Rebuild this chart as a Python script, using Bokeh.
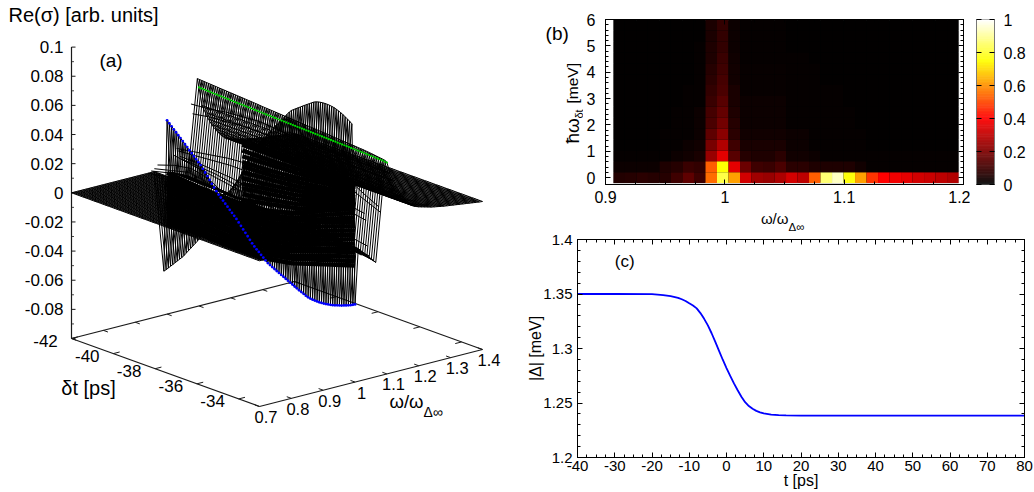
import numpy as np
from bokeh.embed import file_html
from bokeh.resources import INLINE
from bokeh.plotting import figure
from bokeh.layouts import row, column
from bokeh.models import Range1d, LinearAxis, FixedTicker, Label, LinearColorMapper, ColumnDataSource

FONT = "Liberation Sans"

# ---------- panel (a) data: slices of Re(sigma) in units of 1e-3 ----------
z_ticks = [-0.08, -0.06, -0.04, -0.02, 0, 0.02, 0.04, 0.06, 0.08, 0.1]
z_tick_labels = ["-0.08", "-0.06", "-0.04", "-0.02", "0", "0.02", "0.04", "0.06", "0.08", "0.1"]
z_minor = [-0.09, -0.07, -0.05, -0.03, -0.01, 0.01, 0.03, 0.05, 0.07, 0.09]
dt_ticks = [-42, -40, -38, -36, -34]
omega_ticks = [0.7, 0.8, 0.9, 1.0, 1.1, 1.2, 1.3, 1.4]
omega_tick_labels = ["0.7", "0.8", "0.9", "1", "1.1", "1.2", "1.3", "1.4"]

z_low = [-70,-68.4,-66.7,-64.9,-63.2,-61.4,-59.7,-57.9,-56.2,-54.3,-52,-49.8,-47.6,-45.4,-43.2,-41,-38.3,-35.6,-33,-30.3,
 -27.6,-25,-22,-19,-16,-13,-10,-7,-4,-1,2,5,8,11,14,17.4,20.8,24.3,27.8,31.3,34.8,37.1,39.4,41.7,44,46.3,48.6,50.9,53.2,55.5,
 57.8,59.5,61.7,63.9,66,68.2,70.3,72,73.2,74.3,75.5,76.6,77.8,78.9,80,81.1,82.2,83.3,84,84.5,84.8,85,85.1,85.1,85,84.8,84.5,84,83.4,82.7,
 81.9,81,80,79,77.8]
z_blue = [33,31.5,30,28.5,27,25.5,24.1,22.6,21,19.6,18,16.5,15,13.5,12,10.6,8.6,6.6,4.7,2.6,
 0.5,-1.5,-3.4,-5.2,-6.7,-8.2,-9.8,-11.3,-12.9,-14.4,-15.9,-17.5,-19.3,-21.1,-23,-24.8,-26.6,-28.5,-30.3,-31.9,-33.3,-34.6,-36,-37.3,-38.7,-40,-40.8,-41.6,-42.4,-43.2,
 -44,-44.8,-45.5,-46.3,-47.1,-47.9,-48.6,-49.4,-50.1,-50.9,-51.6,-52.2,-52.9,-53.5,-53.8,-54,-54.1,-54.1,-54.1,-54,-53.9,-53.7,-53.4,-53.1,-52.8,-52.3,-51.8,-51.3,-50.8,-50.2,
 -49.6,-49,-48.3,-47.5,-46.7]
z_near = [-3,-3,-3.1,-3.1,-3.2,-3.2,-3.3,-3.3,-3.4,-3.4,-3.5,-3.5,-3.6,-3.6,-3.7,-3.7,-3.8,-3.8,-3.9,-3.9,
 -4,-4,-4.1,-4.2,-4.2,-4.3,-4.3,-4.4,-4.5,-4.5,-4.6,-4.6,-4.7,-4.8,-4.8,-4.9,-5,-5,-5.1,-5.2,-5.2,-5.3,-5.4,-5.4,-5.5,-5.6,-5.6,-5.7,-5.8,-5.8,
 -5.9,-6,-6,-6.1,-6.2,-6.3,-6.3,-6.4,-6.5,-6.5,-6.6,-6.7,-6.8,-6.8,-6.9,-7,-7.1,-7.2,-7.3,-7.4,-7.5,-7.6,-7.7,-7.8,-7.9,-8,-8.1,-8.2,-8.3,-8.4,
 -8.5,-8.6,-8.7,-8.8,-8.9]
z_mid = [-8.7,-8.8,-8.9,-9,-9.1,-9.2,-9.3,-9.4,-9.5,-9.6,-9.7,-9.8,-9.9,-10,-10.1,-10.2,-10.3,-10.4,-10.5,-10.6,
 -10.7,-10.8,-10.9,-11,-11.1,-11.2,-11.3,-11.4,-11.5,-11.6,-11.7,-11.9,-12,-12.1,-12.3,-12.4,-12.5,-12.7,-12.8,-12.9,-13.1,-13.2,-13.4,-13.5,-13.6,-13.8,-13.9,-14.1,-14.2,-14.4,
 -14.5,-14.7,-14.8,-15,-15.1,-15.3,-15.4,-15.6,-15.8,-15.9,-16.1,-16.3,-16.4,-16.6,-16.8,-17,-17.2,-17.4,-17.6,-17.8,-18,-18.2,-18.4,-18.6,-18.8,-19,-19.2,-19.4,-19.6,-19.8,
 -20,-20.3,-20.6,-21,-21.5]
z_top = [56.3,56.2,56.1,56,55.9,55.8,55.7,55.6,55.5,55.4,55.3,55.2,55.1,55,54.9,54.8,54.7,54.6,54.5,54.4,
 54.3,54.2,54.1,54,53.9,53.8,53.7,53.6,53.4,53.3,53.2,53.1,53,52.9,52.8,52.7,52.6,52.5,52.4,52.3,52.2,52.1,52,51.9,51.8,51.7,51.6,51.5,51.4,51.3,
 51.2,51.1,51,50.9,50.8,50.7,50.6,50.5,50.4,50.3,50.2,50,49.9,49.8,49.7,49.6,49.5,49.4,49.3,49.2,49.1,49,48.9,48.8,48.7,48.5,48.4,48.2,48,47.8,
 47.6,47.4,47.2,47,46.7]
z_green = [50,49.9,49.9,49.8,49.7,49.7,49.6,49.5,49.5,49.4,49.4,49.3,49.2,49.2,49.1,49,49,48.9,48.9,48.8,
 48.7,48.7,48.6,48.6,48.5,48.4,48.4,48.3,48.3,48.2,48.1,48.1,48,48,47.9,47.9,47.8,47.8,47.7,47.7,47.6,47.6,47.5,47.5,47.4,47.4,47.3,47.3,47.2,47.2,
 47.1,47.1,47,47,46.9,46.9,46.8,46.8,46.7,46.7,46.6,46.6,46.5,46.5,46.4,46.4,46.3,46.3,46.2,46.2,46.1,46.1,46,46,45.9,45.9,45.8,45.7,45.7,45.6,
 45.5,45.5,45.4,45.2,45.1]
omega_right = [1.11,1.12,1.13,1.14,1.15,1.16,1.17,1.18,1.19,1.20,1.21,1.22,1.23,1.24,1.25,1.26,1.27,1.28,1.29,1.30,
 1.31,1.32,1.33,1.34,1.35,1.36,1.37,1.38,1.39,1.40]
z_right = [37,31.6,26.5,22.3,18.8,15.8,13.2,11,9.9,9.1,8.5,7.9,7.3,6.7,6.3,5.9,5.5,5.1,4.8,4.5,
 4.2,3.9,3.6,3.3,3,2.7,2.4,2.1,1.8,1.6]
omega_flat = [0.70,0.705,0.71,0.715,0.72,0.725,0.73,0.735,0.74,0.745,0.75,0.755,0.76,0.765,0.77,0.775,0.78,0.785,0.79,0.795,
 0.80,0.805,0.81,0.815,0.82,0.825,0.83,0.835,0.84,0.845,0.85,0.855,0.86,0.865,0.87,0.875,0.88,0.885,0.89,0.895,
 0.90,0.905,0.91,0.915,0.92,0.925,0.93,0.935,0.94,0.945,0.95,0.955,0.96]
ripple_omega = [0.94,0.95,0.96,0.97,1.02,1.03,1.035,1.04,1.045,1.075,1.08]
ripple_z = [
 [0,2,4,3,1,-1,-2,-1,1,2,1,0],
 [1,4,6,4,1,-3,-4,-2,2,4,2,0],
 [2,5,8,6,1,-4,-6,-3,3,6,4,1],
 [4,8,10,7,0,-6,-8,-4,4,8,6,2],
 [8,6,4,2,0,-2,-4,-6,-8,-10,-12,-14],
 [12,14,16,18,19,20,20,20,19,18,16,14],
 [10,11,12,13,13,13,13,13,12,12,11,9],
 [6,6,5,4,2,1,0,-2,-3,-5,-7,-9],
 [4,3,2,0,-2,-4,-6,-8,-10,-12,-14,-16],
 [40,41,43,44,45,44,43,40,35,29,22,16],
 [33,35,36,37,37,36,34,30,26,22,17,12],
]
# dense bundles of slices close to omega = 1
dense_z = [
 [-3,-5,-6,-5,0,10,19],
 [-6,-7,-8,-8,-3,7,16],
 [-8,-10,-11,-10,-5,4,13],
 [-11,-12,-13,-13,-8,2,10],
 [-14,-15,-16,-15,-10,-1,7],
 [-16,-17,-18,-18,-13,-4,4],
 [-19,-20,-21,-20,-16,-7,1],
 [-22,-22,-23,-23,-18,-10,-2],
 [-25,-25,-26,-25,-21,-13,-5],
 [-27,-27,-28,-28,-24,-16,-8],
 [-30,-30,-31,-30,-26,-18,-11],
 [-33,-32,-33,-33,-29,-21,-14],
 [-35,-35,-36,-35,-31,-24,-17],
 [-38,-37,-38,-38,-34,-27,-20],
]
upper_dt = [-38.4, -37.05, -35.7, -34.35, -33]
upper_z = [
 [35,35,35,35,35],
 [31,31,32,33,33],
 [27,28,29,31,32],
 [23,24,26,29,30],
 [20,21,23,26,29],
 [16,18,20,24,27],
 [12,14,17,22,25],
 [8,11,14,20,24],
 [5,8,11,18,22],
 [1,4,8,15,21],
 [-3,1,5,13,20],
 [-5.5,-4,2,11,19],
]

# ---------- panel (b) data ----------
omega_b_start = 0.9115
omega_b_step = 0.00964
row_step = 0.4133
heat_rows = [
 [.055,.06,.07,.06,.06,.10,.15,.10,.55,.82,.62,.33,.25,.24,.27,.33,.30,.53,.86,.94,.76,.62,.47,.40,.38,.36,.33,.32,.30,.28],
 [.02,.02,.02,.02,.05,.06,.09,.08,.53,.75,.36,.17,.10,.09,.12,.07,.07,.05,.05,.05,.05,.03,.01,.01,.01,.01,.01,.01,.01,.01],
 [.01,.01,.01,.01,.01,.02,.03,.04,.24,.36,.14,.06,.05,.05,.07,.03,.03,.02,.01,.01,.01,.01,.01,.01,.01,.01,.01,.01,.01,.01],
 [.005,.005,.005,.005,.01,.01,.02,.03,.19,.28,.10,.04,.04,.04,.04,.02,.02,.01,.01,.01,.01,.01,.005,.005,.005,.005,.005,.005,.005,.005],
 [.005,.005,.005,.005,.01,.01,.01,.02,.15,.22,.07,.03,.03,.03,.03,.02,.02,.01,.01,.01,.01,.01,.005,.005,.005,.005,.005,.005,.005,.005],
 [.005,.005,.005,.005,.005,.01,.01,.02,.12,.18,.06,.02,.02,.02,.02,.01,.01,.01,.01,.01,.01,.005,.005,.005,.005,.005,.005,.005,.005,.005],
 [.005,.005,.005,.005,.005,.01,.01,.02,.11,.16,.05,.02,.02,.02,.02,.01,.01,.01,.01,.01,.01,.005,.005,.005,.005,.005,.005,.005,.005,.005],
 [.005,.005,.005,.005,.005,.005,.01,.01,.09,.14,.04,.02,.02,.02,.02,.01,.01,.01,.01,.01,.005,.005,.005,.005,.005,.005,.005,.005,.005,.005],
 [.005,.005,.005,.005,.005,.005,.01,.01,.08,.12,.04,.015,.015,.015,.015,.01,.01,.01,.01,.01,.005,.005,.005,.005,.005,.005,.005,.005,.005,.005],
 [.005,.005,.005,.005,.005,.005,.005,.01,.07,.11,.03,.015,.015,.015,.015,.01,.01,.01,.005,.005,.005,.005,.005,.005,.005,.005,.005,.005,.005,.005],
 [.005,.005,.005,.005,.005,.005,.005,.01,.06,.10,.03,.015,.015,.015,.015,.01,.01,.01,.005,.005,.005,.005,.005,.005,.005,.005,.005,.005,.005,.005],
 [.005,.005,.005,.005,.005,.005,.005,.01,.05,.09,.025,.01,.01,.01,.01,.01,.01,.005,.005,.005,.005,.005,.005,.005,.005,.005,.005,.005,.005,.005],
 [.005,.005,.005,.005,.005,.005,.005,.01,.05,.08,.02,.01,.01,.01,.01,.005,.005,.005,.005,.005,.005,.005,.005,.005,.005,.005,.005,.005,.005,.005],
 [.005,.005,.005,.005,.005,.005,.005,.005,.045,.08,.02,.01,.01,.01,.01,.005,.005,.005,.005,.005,.005,.005,.005,.005,.005,.005,.005,.005,.005,.005],
 [.005,.005,.005,.005,.005,.005,.005,.005,.045,.08,.02,.01,.01,.01,.01,.005,.005,.005,.005,.005,.005,.005,.005,.005,.005,.005,.005,.005,.005,.005],
]

# ---------- panel (c) data ----------
t_ps = [-40,-30,-20,-17,-15,-13,-12,-11,-10,-9,-8,-7,-6,-5,-4,-3,-2,-1,0,1,2,3,4,5,6,7,8,9,10,12,14,16,20,30,50,80]
gap_mev = [1.35,1.35,1.3498,1.349,1.348,1.3465,1.3452,1.3436,1.3415,1.3395,1.3368,1.3325,1.3272,1.3212,1.314,1.306,1.2978,
           1.2897,1.282,1.2748,1.268,1.2617,1.2558,1.2507,1.2472,1.2447,1.2428,1.2414,1.2404,1.2393,1.2388,1.2386,1.2385,1.2385,1.2385,1.2385]


# ---------- panel (a): 3D projection drawn on a page-pixel scale ----------
def proj(omega, dt, z):
    f = (np.asarray(omega, dtype=float) - 0.7) / 0.7
    g = (np.asarray(dt, dtype=float) + 42.0) / 9.0
    x = 71 + 223 * f + 188 * g
    y = 338 - 57 * f + 68 * g - 1457 * (np.asarray(z, dtype=float) + 0.1)
    return x, y


dt_grid = np.linspace(-42, -33, 85)
dt_coarse = np.linspace(-42, -33, 12)
dt_dense = np.linspace(-42, -33, 7)

slices = [(w, np.zeros(85)) for w in omega_flat]
slices += [(0.99, np.array(z_low) / 1000), (1.0, np.array(z_blue) / 1000), (1.01, np.array(z_near) / 1000),
           (1.065, np.array(z_mid) / 1000), (1.095, np.array(z_top) / 1000), (1.1, np.array(z_green) / 1000)]
slices += [(w, np.full(85, zv / 1000)) for w, zv in zip(omega_right, z_right)]

pa = figure(width=510, height=492, x_range=Range1d(0, 510), y_range=Range1d(492, 0),
            x_axis_type=None, y_axis_type=None, toolbar_location=None, output_backend="svg",
            min_border=0, outline_line_color=None, frame_align=False)
pa.grid.visible = False

AX = "#1a1a1a"
def seg3(p0, p1, width=1.0):
    x0, y0 = proj(*p0)
    x1, y1 = proj(*p1)
    pa.line([float(x0), float(x1)], [float(y0), float(y1)], line_color=AX, line_width=width)

seg3((0.7, -42, -0.1), (0.7, -33, -0.1), 1.2)
seg3((0.7, -33, -0.1), (1.4, -33, -0.1), 1.2)
seg3((1.4, -33, -0.1), (1.4, -42, -0.1), 1.2)
seg3((1.4, -42, -0.1), (0.7, -42, -0.1), 1.2)
seg3((0.7, -42, -0.1), (0.7, -42, 0.1), 1.2)

for zv in z_ticks + [-0.1]:
    x0, y0 = proj(0.7, -42, zv)
    pa.line([float(x0), float(x0) + 4], [float(y0), float(y0)], line_color=AX, line_width=1)
for zv in z_minor:
    x0, y0 = proj(0.7, -42, zv)
    pa.line([float(x0), float(x0) + 2.5], [float(y0), float(y0)], line_color=AX, line_width=0.8)
for d in dt_ticks:
    seg3((0.7, d, -0.1), (0.72, d, -0.1), 1.0)
    seg3((1.4, d, -0.1), (1.38, d, -0.1), 1.0)
for w in omega_ticks:
    seg3((w, -33, -0.1), (w, -33.22, -0.1), 1.0)
    seg3((w, -42, -0.1), (w, -41.78, -0.1), 1.0)

xs, ys = [], []
for w, z in slices:
    x, y = proj(w, dt_grid, z)
    xs.append(x.tolist()); ys.append(y.tolist())
for w, z in zip(ripple_omega, ripple_z):
    x, y = proj(w, dt_coarse, np.array(z) / 1000)
    xs.append(x.tolist()); ys.append(y.tolist())
for i in range(85):
    wv = [s[0] for s in slices]
    zv = [float(s[1][i]) for s in slices]
    x, y = proj(wv, dt_grid[i], zv)
    xs.append(x.tolist()); ys.append(y.tolist())
pa.multi_line(xs, ys, line_color="black", line_width=1.0)

dxs, dys = [], []
for z in dense_z:
    x, y = proj(1.0, dt_dense, np.array(z) / 1000)
    dxs.append(x.tolist()); dys.append(y.tolist())
for z in upper_z:
    x, y = proj(1.0, upper_dt, np.array(z) / 1000)
    dxs.append(x.tolist()); dys.append(y.tolist())
pa.multi_line(dxs, dys, line_color="black", line_width=4.4)

bx, by = proj(1.0, dt_grid, np.array(z_blue) / 1000)
pa.scatter(bx, by, size=2.8, marker="circle", fill_color="#0000ff", line_color=None)
gx, gy = proj(1.1, dt_grid, np.array(z_green) / 1000)
pa.scatter(gx, gy, size=2.2, marker="circle", fill_color="#00e000", line_color=None)


def put(fig, x, y, s, size=17, align="center", angle=0):
    fig.add_layout(Label(x=x, y=y, text=s, text_font=FONT, text_font_size=f"{size}px",
                         text_align=align, text_baseline="middle", angle=angle, angle_units="deg",
                         text_color="black"))

for zv, lab in zip(z_ticks, z_tick_labels):
    x, y = proj(0.7, -42, zv)
    put(pa, float(x) - 8, float(y), lab, align="right")
for d in dt_ticks:
    x, y = proj(0.7, d, -0.1)
    put(pa, float(x) - 26, float(y) + 2.5, str(d))
for w, lab in zip(omega_ticks, omega_tick_labels):
    x, y = proj(w, -33, -0.1)
    put(pa, float(x) + 6.5, float(y) + 10.5, lab, size=16.5)
put(pa, 8, 14, "Re(σ) [arb. units]", size=20, align="left")
put(pa, 110.5, 60, "(a)", size=19)
put(pa, 88, 387, "δt [ps]", size=20)
put(pa, 423, 401, "ω/ω", size=18.5, align="right")
put(pa, 423, 411, "Δ∞", size=14, align="left")

# ---------- panel (b) ----------
level = np.linspace(0, 1, 256)
pal_r = np.clip(level / 0.4, 0, 1)
pal_g = np.clip((level - 0.4) / 0.35, 0, 1)
pal_b = np.clip((level - 0.75) / 0.25, 0, 1)
palette = ["#%02x%02x%02x" % (int(r * 255), int(g * 255), int(b * 255)) for r, g, b in zip(pal_r, pal_g, pal_b)]
mapper = LinearColorMapper(palette=palette, low=0, high=1)

pb = figure(width=387, height=210, x_range=Range1d(0.9, 1.2), y_range=Range1d(-0.26, 6.0),
            toolbar_location=None, output_backend="svg", min_border_left=22, min_border_right=7,
            min_border_top=19, min_border_bottom=26, outline_line_color="black", outline_line_width=1,
            frame_align=False)
pb.grid.visible = False
cx, cy, cv = [], [], []
for j, r in enumerate(heat_rows):
    for i, v in enumerate(r):
        cx.append(omega_b_start + i * omega_b_step)
        cy.append(j * row_step)
        cv.append(v)
src = ColumnDataSource(dict(x=cx, y=cy, v=cv))
pb.quad(left=omega_b_start - omega_b_step / 2, right=omega_b_start + 29.5 * omega_b_step,
        bottom=-row_step / 2, top=14.5 * row_step, fill_color="black", line_color="#b8b8b8", line_width=1)
pb.rect("x", "y", width=omega_b_step, height=row_step, source=src,
        fill_color={"field": "v", "transform": mapper}, line_color=None)


def style(ax, ticks, minors, labels=True, font=15, standoff=4):
    ax.ticker = FixedTicker(ticks=ticks, minor_ticks=minors)
    ax.major_tick_in, ax.major_tick_out = 5, 0
    ax.minor_tick_in, ax.minor_tick_out = 3, 0
    ax.axis_line_color = "black"
    ax.major_label_standoff = standoff
    ax.major_label_text_font = FONT
    ax.major_label_text_font_size = f"{font}px"
    ax.major_label_text_color = "black"
    if labels:
        ax.major_label_overrides = {t: str(t) for t in ticks}
    else:
        ax.major_label_overrides = {t: "" for t in ticks}


bx_ticks = [0.9, 1.0, 1.1, 1.2]
bx_min = [0.9 + 0.025 * k for k in range(13)]
by_ticks = [0, 1, 2, 3, 4, 5, 6]
by_min = [0.2 * k for k in range(31)]
style(pb.xaxis[0], bx_ticks, bx_min, font=16, standoff=6)
pb.xaxis[0].major_label_overrides = {0.9: "0.9", 1.0: "1", 1.1: "1.1", 1.2: "1.2"}
style(pb.yaxis[0], by_ticks, by_min, font=16, standoff=10)
top = LinearAxis(); style(top, bx_ticks, bx_min, labels=False); pb.add_layout(top, "above")
right = LinearAxis(); style(right, by_ticks, by_min, labels=False); pb.add_layout(right, "right")

# text strips that hold panel (b)'s title pieces, drawn on a page-pixel scale
strip_left = figure(width=73, height=210, x_range=Range1d(510, 583), y_range=Range1d(210, 0),
                    x_axis_type=None, y_axis_type=None, toolbar_location=None, output_backend="svg",
                    min_border=0, outline_line_color=None, frame_align=False)
strip_left.grid.visible = False
strip_bottom = figure(width=524, height=22, x_range=Range1d(510, 1034), y_range=Range1d(232, 210),
                      x_axis_type=None, y_axis_type=None, toolbar_location=None, output_backend="svg",
                      min_border=0, outline_line_color=None, frame_align=False)
strip_bottom.grid.visible = False
put(strip_left, 556.7, 33, "(b)", 19)
put(strip_left, 572, 143, "ħω", 19, align="left", angle=90)
put(strip_left, 578, 118, "δt", 11, align="left", angle=90)
put(strip_left, 572, 103, "[meV]", 15.5, align="left", angle=90)
put(strip_bottom, 788, 218, "ω/ω", 15, align="right")
put(strip_bottom, 788, 226, "Δ∞", 11.5, align="left")

# colour bar
bar_ticks = [0, 0.2, 0.4, 0.6, 0.8, 1]
pbar = figure(width=64, height=210, x_range=Range1d(0, 1), y_range=Range1d(0, 1),
              toolbar_location=None, output_backend="svg", x_axis_type=None, y_axis_type=None,
              min_border_left=6, min_border_right=40, min_border_top=19, min_border_bottom=26,
              outline_line_color="#777777", outline_line_width=1, frame_align=False)
pbar.grid.visible = False
edges = np.linspace(0, 1, 257)
pbar.quad(left=0, right=1, bottom=edges[:-1], top=edges[1:], fill_color=palette, line_color=palette, line_width=0.3)
ax_r = LinearAxis(); style(ax_r, bar_ticks, [], font=16, standoff=9)
ax_r.major_label_overrides = {0: "0", 0.2: "0.2", 0.4: "0.4", 0.6: "0.6", 0.8: "0.8", 1: "1"}
ax_r.axis_line_color = "#777777"
pbar.add_layout(ax_r, "right")
ax_l = LinearAxis(); style(ax_l, bar_ticks, [], labels=False, standoff=0); ax_l.axis_line_color = "#777777"
pbar.add_layout(ax_l, "left")

# ---------- panel (c) ----------
pc = figure(width=524, height=260, x_range=Range1d(-40, 80), y_range=Range1d(1.2, 1.4),
            toolbar_location=None, output_backend="svg", min_border_left=67, min_border_right=10,
            min_border_top=7, min_border_bottom=35, outline_line_color="black", outline_line_width=1,
            frame_align=False)
pc.grid.visible = False
pc.line(t_ps, gap_mev, line_color="#0000ff", line_width=1.8)
cx_ticks = list(range(-40, 81, 10))
cx_min = [-40 + 2.5 * k for k in range(49)]
cy_ticks = [1.2, 1.25, 1.3, 1.35, 1.4]
cy_min = [1.2 + 0.01 * k for k in range(21)]
style(pc.xaxis[0], cx_ticks, cx_min, standoff=3)
style(pc.yaxis[0], cy_ticks, cy_min, standoff=5)
for ax, txt in ((pc.xaxis[0], "t [ps]"), (pc.yaxis[0], "|Δ| [meV]")):
    ax.axis_label = txt
    ax.axis_label_text_font = FONT
    ax.axis_label_text_font_size = "16px"
    ax.axis_label_text_font_style = "normal"
    ax.axis_label_text_color = "black"
pc.xaxis[0].axis_label_standoff = -2
pc.yaxis[0].axis_label_standoff = -4
top2 = LinearAxis(); style(top2, cx_ticks, cx_min, labels=False); pc.add_layout(top2, "above")
right2 = LinearAxis(); style(right2, cy_ticks, cy_min, labels=False); pc.add_layout(right2, "right")

put(pc, -40 + (624 - 576.7) / 447.3 * 120, 1.4 - (260.7 - 239.0) / 218.3 * 0.2, "(c)", 17)

page = row(pa, column(row(strip_left, pb, pbar, spacing=0), strip_bottom, pc, spacing=0), spacing=0)
open("out.html", "w").write(file_html(page, INLINE))
